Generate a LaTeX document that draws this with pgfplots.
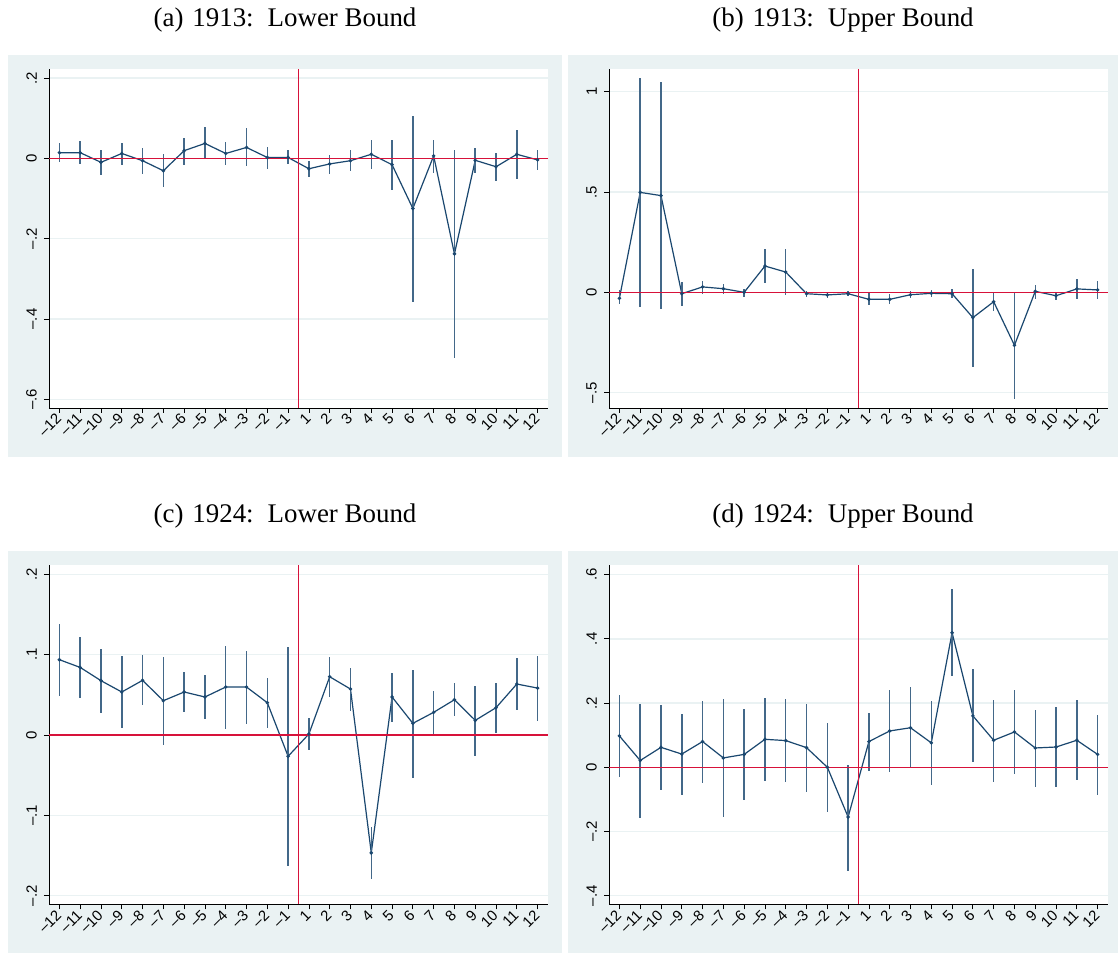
\documentclass[border=0pt]{standalone}
\usepackage{pgfplots}
\usepackage{pgfplotstable}
\usepackage{fontspec}
\pgfplotsset{compat=1.18}
\setmainfont{Liberation Serif}
\setsansfont{Liberation Sans}

\definecolor{navyc}{RGB}{26,71,111}
\definecolor{redc}{RGB}{215,18,58}
\definecolor{bgc}{RGB}{234,242,243}
\definecolor{gridc}{RGB}{234,242,243}

\newfontfamily\tickfont{Liberation Sans}

% event time index: 0..11 = -12..-1, 12..23 = 1..12
\pgfplotstableread{
i  b      lo      hi
0  0.014  -0.010  0.037
1  0.014  -0.014  0.042
2  -0.010 -0.041  0.021
3  0.012  -0.017  0.037
4  -0.006 -0.039  0.025
5  -0.031 -0.072  0.010
6  0.019  -0.016  0.051
7  0.037  -0.002  0.077
8  0.012  -0.016  0.040
9  0.027  -0.020  0.075
10 0.002  -0.026  0.028
11 0.002  -0.014  0.021
12 -0.026 -0.046  -0.007
13 -0.014 -0.038  0.008
14 -0.006 -0.032  0.021
15 0.010  -0.026  0.046
16 -0.016 -0.079  0.046
17 -0.125 -0.359  0.105
18 0.006  -0.036  0.046
19 -0.238 -0.498  0.021
20 -0.005 -0.037  0.025
21 -0.021 -0.056  0.012
22 0.010  -0.051  0.071
23 -0.004 -0.030  0.021
}\lowA

\pgfplotstableread{
i  b      lo      hi
0  -0.030 -0.058  0.012
1  0.498  -0.071  1.066
2  0.482  -0.085  1.046
3  -0.007 -0.068  0.050
4  0.027  -0.007  0.058
5  0.018  -0.007  0.040
6  0.000  -0.022  0.017
7  0.131  0.045   0.218
8  0.101  -0.013  0.214
9  -0.007 -0.022  0.008
10 -0.013 -0.030  0.000
11 -0.007 -0.017  0.005
12 -0.035 -0.063  -0.005
13 -0.035 -0.060  -0.010
14 -0.012 -0.030  0.005
15 -0.005 -0.022  0.012
16 -0.007 -0.030  0.017
17 -0.126 -0.370  0.116
18 -0.047 -0.091  0.000
19 -0.264 -0.533  0.000
20 0.005  -0.033  0.037
21 -0.017 -0.037  0.000
22 0.017  -0.033  0.065
23 0.012  -0.035  0.055
}\upB

\pgfplotstableread{
i  b       lo       hi
0  0.0937  0.0489   0.1376
1  0.0841  0.0456   0.1223
2  0.0676  0.0278   0.1074
3  0.0535  0.0087   0.0978
4  0.0680  0.0369   0.0991
5  0.0427  -0.0120  0.0974
6  0.0535  0.0286   0.0779
7  0.0473  0.0195   0.0750
8  0.0597  0.0075   0.1107
9  0.0597  0.0141   0.1040
10 0.0402  0.0091   0.0705
11 -0.0265 -0.1629  0.1094
12 0.0012  -0.0182  0.0211
13 0.0725  0.0473   0.0974
14 0.0572  0.0298   0.0837
15 -0.1467 -0.1791  -0.1144
16 0.0473  0.0166   0.0775
17 0.0145  -0.0535  0.0812
18 0.0282  0.0017   0.0547
19 0.0439  0.0236   0.0647
20 0.0182  -0.0261  0.0613
21 0.0340  0.0029   0.0651
22 0.0634  0.0315   0.0953
23 0.0584  0.0174   0.0987
}\lowC

\pgfplotstableread{
i  b       lo      hi
0  0.0975  -0.031  0.225
1  0.021   -0.158  0.196
2  0.062   -0.070  0.193
3  0.041   -0.087  0.167
4  0.080   -0.049  0.206
5  0.029   -0.155  0.211
6  0.040   -0.102  0.180
7  0.087   -0.043  0.215
8  0.083   -0.046  0.212
9  0.061   -0.076  0.196
10 0.000   -0.138  0.138
11 -0.155  -0.324  0.008
12 0.080   -0.011  0.168
13 0.113   -0.016  0.240
14 0.123   -0.003  0.250
15 0.076   -0.056  0.205
16 0.419   0.283   0.556
17 0.160   0.015   0.305
18 0.084   -0.045  0.210
19 0.110   -0.020  0.240
20 0.060   -0.061  0.179
21 0.063   -0.063  0.188
22 0.084   -0.041  0.208
23 0.040   -0.085  0.164
}\upD

\pgfplotsset{
  evplot/.style={
    scale only axis,
    width=499bp, height=339bp,
    xmin=-0.5, xmax=23.5,
    axis x line*=bottom, axis y line*=left,
    axis line style={black, line width=0.8bp},
    axis background/.style={fill=white},
    tick align=outside,
    major tick length=5bp,
    tick style={black, line width=0.8bp},
    xtick={0,...,23},
    xticklabels={–12,–11,–10,–9,–8,–7,–6,–5,–4,–3,–2,–1,1,2,3,4,5,6,7,8,9,10,11,12},
    tick label style={font=\tickfont\fontsize{15}{16}\selectfont},
    xticklabel style={rotate=45, anchor=east, inner sep=1bp},
    xticklabel shift=2.5bp,
    yticklabel style={rotate=90, anchor=south, inner sep=1bp},
    yticklabel shift=6bp,
    ymajorgrids,
    grid style={gridc, line width=1.4bp},
    clip=false,
  },
  evline/.style={
    navyc, line width=1.2bp, mark=*, mark size=1.1bp,
    mark options={navyc},
    error bars/.cd, y dir=both, y explicit, error mark=none,
    error bar style={line width=1.5bp, navyc!82!white},
  },
}

\newcommand{\evdata}[1]{%
  \addplot[evline] table[x=i, y=b,
    y error plus expr=\thisrow{hi}-\thisrow{b},
    y error minus expr=\thisrow{b}-\thisrow{lo}] {#1};
  \draw[redc, line width=1.3bp] (axis cs:-0.5,0) -- (axis cs:23.5,0);
  \draw[redc, line width=1.3bp] (axis cs:11.5,\pgfkeysvalueof{/pgfplots/ymin}) -- (axis cs:11.5,\pgfkeysvalueof{/pgfplots/ymax});
}

\begin{document}
\begin{tikzpicture}[x=1bp, y=1bp]
\path[use as bounding box] (0,0) rectangle (1118,954);
% panel backgrounds
\fill[bgc] (8,497) rectangle (562,899);
\fill[bgc] (568,497) rectangle (1118,899);
\fill[bgc] (8,1) rectangle (562,403);
\fill[bgc] (568,1) rectangle (1118,403);
% panel titles
\begin{scope}[every node/.style={font=\fontsize{27}{30}\selectfont}]
\node at (285,934) {(a)\hspace{9bp}1913:\hspace{14bp}Lower Bound};
\node at (843,934) {(b)\hspace{9bp}1913:\hspace{14bp}Upper Bound};
\node at (285,438) {(c)\hspace{9bp}1924:\hspace{14bp}Lower Bound};
\node at (843,438) {(d)\hspace{9bp}1924:\hspace{14bp}Upper Bound};
\end{scope}

\begin{axis}[evplot, at={(49bp,546bp)}, anchor=south west,
  ymin=-0.6217, ymax=0.2224,
  ytick={-0.6,-0.4,-0.2,0,0.2}, yticklabels={–.6,–.4,–.2,0,.2}]
\evdata{\lowA}
\end{axis}

\begin{axis}[evplot, at={(609bp,546bp)}, anchor=south west,
  ymin=-0.5764, ymax=1.113,
  ytick={-0.5,0,0.5,1}, yticklabels={–.5,0,.5,1}]
\evdata{\upB}
\end{axis}

\begin{axis}[evplot, at={(49bp,49.7bp)}, anchor=south west,
  ymin=-0.2107, ymax=0.2112,
  ytick={-0.2,-0.1,0,0.1,0.2}, yticklabels={–.2,–.1,0,.1,.2}]
\evdata{\lowC}
\end{axis}

\begin{axis}[evplot, at={(609bp,49.7bp)}, anchor=south west,
  ymin=-0.4269, ymax=0.629,
  ytick={-0.4,-0.2,0,0.2,0.4,0.6}, yticklabels={–.4,–.2,0,.2,.4,.6}]
\evdata{\upD}
\end{axis}
\end{tikzpicture}
\end{document}
